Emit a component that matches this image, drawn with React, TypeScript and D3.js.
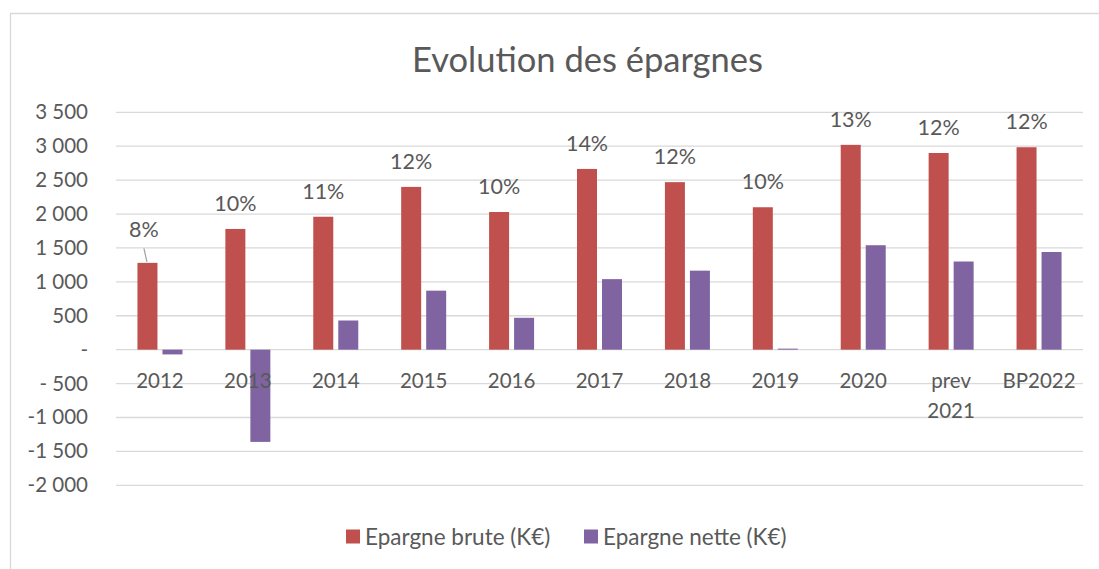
import React from 'react';
import * as d3 from 'd3';

const categories = ['2012', '2013', '2014', '2015', '2016', '2017', '2018', '2019', '2020', 'prev 2021', 'BP2022'];
const epargneBrute = [1280, 1780, 1960, 2400, 2030, 2665, 2470, 2100, 3020, 2900, 2985];
const epargneNette = [-70, -1360, 430, 870, 470, 1040, 1165, 15, 1540, 1300, 1440];
const tauxLabels = ['8%', '10%', '11%', '12%', '10%', '14%', '12%', '10%', '13%', '12%', '12%'];
const yTicks = [3500, 3000, 2500, 2000, 1500, 1000, 500, 0, -500, -1000, -1500, -2000];
const yTickLabels = ['3 500', '3 000', '2 500', '2 000', '1 500', '1 000', '500', '-', '- 500', '-1 000', '-1 500', '-2 000'];
const seriesNames = ['Epargne brute (K€)', 'Epargne nette (K€)'];
const seriesColors = ['#C0504D', '#8064A2'];
const title = 'Evolution des épargnes';

const W = 1099;
const H = 569;
const FONT = 'Lato, "Open Sans", sans-serif';
const TEXT = '#595959';
const GRID = '#D9D9D9';

export default function App() {
  const x = d3.scaleBand<string>().domain(categories).range([116, 1083]).padding(0);
  const inner = d3.scaleBand<string>().domain(['b', 'n']).range([-22.5, 22.5]).paddingInner(0.2);
  const y = d3.scaleLinear().domain([-2000, 3500]).range([485.3, 112.3]);
  const cx = (c: string) => (x(c) as number) + x.bandwidth() / 2;
  const y0 = y(0);

  return (
    <svg width={W} height={H} style={{ position: 'absolute', left: 0, top: 0, background: '#fff' }} fontFamily={FONT}>
      <rect x={0} y={0} width={W} height={H} fill="#fff" />
      {/* chart frame */}
      <line x1={10} x2={W} y1={13.5} y2={13.5} stroke={GRID} strokeWidth={1.3} />
      <line x1={10.5} x2={10.5} y1={13} y2={H} stroke={GRID} strokeWidth={1.3} />

      <text x={587.5} y={72} textAnchor="middle" fontSize={34.5} fill={TEXT}>{title}</text>

      {/* gridlines + y labels */}
      {yTicks.map((t, i) => (
        <g key={t}>
          <line x1={116} x2={1083} y1={y(t)} y2={y(t)} stroke={GRID} strokeWidth={1.3} />
          <text x={88} y={y(t) + 7} textAnchor="end" fontSize={20.5} fill={TEXT}>{yTickLabels[i]}</text>
        </g>
      ))}

      {/* bars */}
      {categories.map((c, i) => {
        const vb = epargneBrute[i];
        const vn = epargneNette[i];
        const xb = cx(c) + (inner('b') as number);
        const xn = cx(c) + (inner('n') as number);
        return (
          <g key={c}>
            <rect x={xb} width={inner.bandwidth()} y={Math.min(y(vb), y0)} height={Math.abs(y(vb) - y0)} fill={seriesColors[0]} />
            <rect x={xn} width={inner.bandwidth()} y={Math.min(y(vn), y0)} height={Math.abs(y(vn) - y0)} fill={seriesColors[1]} />
          </g>
        );
      })}

      {/* percentage labels */}
      {categories.map((c, i) => {
        const bx = cx(c) + (inner('b') as number) + inner.bandwidth() / 2;
        const top = y(epargneBrute[i]);
        if (i === 0) {
          return (
            <g key={c}>
              <line x1={bx - 3.5} y1={top - 14.5} x2={bx - 0.5} y2={top - 1} stroke="#A6A6A6" strokeWidth={1.3} />
              <text x={bx - 3.5} y={top - 25.5} textAnchor="middle" fontSize={21.5} fill={TEXT}>{tauxLabels[i]}</text>
            </g>
          );
        }
        return (
          <text key={c} x={bx} y={top - 18} textAnchor="middle" fontSize={21.5} fill={TEXT}>{tauxLabels[i]}</text>
        );
      })}

      {/* x labels */}
      {categories.map((c) => {
        const lines = c.split(' ');
        return (
          <text key={c} x={cx(c)} y={388} textAnchor="middle" fontSize={20.5} fill={TEXT}>
            {lines.map((l, j) => (
              <tspan key={j} x={cx(c)} dy={j === 0 ? 0 : 30}>{l}</tspan>
            ))}
          </text>
        );
      })}

      {/* legend */}
      {seriesNames.map((s, i) => {
        const lx = i === 0 ? 346 : 584;
        return (
          <g key={s}>
            <rect x={lx} y={529.5} width={14} height={14} fill={seriesColors[i]} />
            <text x={lx + 19} y={545} fontSize={22.5} fill={TEXT}>{s}</text>
          </g>
        );
      })}
    </svg>
  );
}
